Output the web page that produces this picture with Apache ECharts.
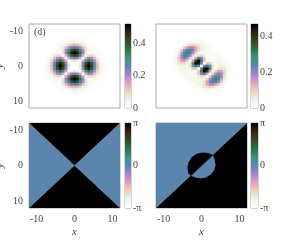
<!DOCTYPE html>
<html><head><meta charset="utf-8">
<style>html,body{margin:0;padding:0;background:#fff}#c{width:296px;height:242px}</style>
<script src="https://cdn.jsdelivr.net/npm/echarts@6/dist/echarts.min.js"></script>
</head><body><div id="c"></div>
<script>
const gridCoords = [-7.5,-6.75,-6,-5.25,-4.5,-3.75,-3,-2.25,-1.5,-0.75,0,0.75,1.5,2.25,3,3.75,4.5,5.25,6,6.75,7.5];
const densityD = [
[0,0,0,0,0,0,.01,.01,.01,.02,.02,.02,.01,.01,.01,0,0,0,0,0,0],
[0,0,0,0,0,.01,.01,.03,.04,.05,.06,.05,.04,.03,.01,.01,0,0,0,0,0],
[0,0,0,0,.01,.02,.03,.06,.10,.13,.14,.13,.10,.06,.03,.02,.01,0,0,0,0],
[0,0,0,.01,.01,.03,.07,.13,.20,.26,.28,.26,.20,.13,.07,.03,.01,.01,0,0,0],
[0,0,.01,.01,.03,.03,.09,.20,.31,.40,.44,.40,.31,.20,.09,.03,.03,.01,.01,0,0],
[0,.01,.02,.03,.03,0,.08,.22,.36,.48,.52,.48,.36,.22,.08,0,.03,.03,.02,.01,0],
[.01,.01,.03,.07,.09,.08,0,.15,.30,.41,.45,.41,.30,.15,0,.08,.09,.07,.03,.01,.01],
[.01,.03,.06,.13,.20,.22,.15,0,.15,.23,.25,.23,.15,0,.15,.22,.20,.13,.06,.03,.01],
[.01,.04,.10,.20,.31,.36,.30,.15,0,.06,.08,.06,0,.15,.30,.36,.31,.20,.10,.04,.01],
[.02,.05,.13,.26,.40,.48,.41,.23,.06,0,.01,0,.06,.23,.41,.48,.40,.26,.13,.05,.02],
[.02,.06,.14,.28,.44,.52,.45,.25,.08,.01,0,.01,.08,.25,.45,.52,.44,.28,.14,.06,.02],
[.02,.05,.13,.26,.40,.48,.41,.23,.06,0,.01,0,.06,.23,.41,.48,.40,.26,.13,.05,.02],
[.01,.04,.10,.20,.31,.36,.30,.15,0,.06,.08,.06,0,.15,.30,.36,.31,.20,.10,.04,.01],
[.01,.03,.06,.13,.20,.22,.15,0,.15,.23,.25,.23,.15,0,.15,.22,.20,.13,.06,.03,.01],
[.01,.01,.03,.07,.09,.08,0,.15,.30,.41,.45,.41,.30,.15,0,.08,.09,.07,.03,.01,.01],
[0,.01,.02,.03,.03,0,.08,.22,.36,.48,.52,.48,.36,.22,.08,0,.03,.03,.02,.01,0],
[0,0,.01,.01,.03,.03,.09,.20,.31,.40,.44,.40,.31,.20,.09,.03,.03,.01,.01,0,0],
[0,0,0,.01,.01,.03,.07,.13,.20,.26,.28,.26,.20,.13,.07,.03,.01,.01,0,0,0],
[0,0,0,0,.01,.02,.03,.06,.10,.13,.14,.13,.10,.06,.03,.02,.01,0,0,0,0],
[0,0,0,0,0,.01,.01,.03,.04,.05,.06,.05,.04,.03,.01,.01,0,0,0,0,0],
[0,0,0,0,0,0,.01,.01,.01,.02,.02,.02,.01,.01,.01,0,0,0,0,0,0]
];
const densityE = [
[0,0,0,0,0,0,0,.01,.01,.01,.01,0,0,0,0,0,0,0,0,0,0],
[0,0,0,0,.01,.02,.02,.03,.03,.03,.02,.01,0,0,0,0,0,0,0,0,0],
[0,0,0,.01,.03,.06,.08,.10,.08,.07,.04,.02,.01,.01,0,0,0,0,0,0,0],
[0,0,.01,.04,.10,.15,.19,.18,.14,.08,.05,.04,.03,.01,.01,0,0,0,0,0,0],
[0,.01,.03,.10,.19,.26,.27,.22,.14,.08,.05,.04,.03,.03,.01,.01,0,0,0,0,0],
[0,.02,.06,.15,.26,.30,.27,.18,.10,.03,.03,.03,.03,.03,.03,.01,.01,0,0,0,0],
[0,.02,.08,.19,.27,.27,.20,.10,.02,.07,.08,.05,.02,.02,.03,.03,.01,.01,0,0,0],
[.01,.03,.10,.18,.22,.18,.10,.02,.14,.26,.22,.10,.03,.01,.02,.03,.03,.01,.01,0,0],
[.01,.03,.08,.14,.14,.10,.02,.14,.38,.46,.30,.11,0,.03,.02,.03,.03,.03,.01,.01,0],
[.01,.03,.07,.08,.08,.03,.07,.26,.46,.44,.23,0,.11,.10,.05,.03,.04,.04,.02,.01,.01],
[.01,.02,.04,.05,.05,.03,.08,.22,.30,.23,0,.23,.30,.22,.08,.03,.05,.05,.04,.02,.01],
[.01,.01,.02,.04,.04,.03,.05,.10,.11,0,.23,.44,.46,.26,.07,.03,.08,.08,.07,.03,.01],
[0,.01,.01,.03,.03,.03,.02,.03,0,.11,.30,.46,.38,.14,.02,.10,.14,.14,.08,.03,.01],
[0,0,.01,.01,.03,.03,.02,.01,.03,.10,.22,.26,.14,.02,.10,.18,.22,.18,.10,.03,.01],
[0,0,0,.01,.01,.03,.03,.02,.02,.05,.08,.07,.02,.10,.20,.27,.27,.19,.08,.02,0],
[0,0,0,0,.01,.01,.03,.03,.03,.03,.03,.03,.10,.18,.27,.30,.26,.15,.06,.02,0],
[0,0,0,0,0,.01,.01,.03,.03,.04,.05,.08,.14,.22,.27,.26,.19,.10,.03,.01,0],
[0,0,0,0,0,0,.01,.01,.03,.04,.05,.08,.14,.18,.19,.15,.10,.04,.01,0,0],
[0,0,0,0,0,0,0,.01,.01,.02,.04,.07,.08,.10,.08,.06,.03,.01,0,0,0],
[0,0,0,0,0,0,0,0,0,.01,.02,.03,.03,.03,.02,.02,.01,0,0,0,0],
[0,0,0,0,0,0,0,0,0,0,.01,.01,.01,.01,0,0,0,0,0,0,0]
];
const PI = Math.PI;
const phaseC = [
  {phase:0,  pts:[[-12,-12],[0,0],[-12,12]]},
  {phase:0,  pts:[[12,-12],[0,0],[12,12]]},
  {phase:PI, pts:[[-12,-12],[12,-12],[0,0]]},
  {phase:PI, pts:[[-12,12],[12,12],[0,0]]}
];
const phaseF = [
  {phase:0,  pts:[[-12,-12],[12,-12],[-12,12]]},
  {phase:PI, pts:[[12,-12],[12,12],[-12,12]]},
  {phase:PI, pts:[[-2.9,2.9],[-3.5,2.1],[-3.7,0.6],[-3.4,-0.9],[-2.6,-2.3],[-1.3,-3.3],[0.3,-3.7],[1.8,-3.5],[3.0,-3.0]]},
  {phase:0,  pts:[[-2.7,2.9],[-1.7,3.4],[-0.3,3.65],[1.2,3.4],[2.5,2.5],[3.4,1.2],[3.7,-0.1],[3.5,-1.6],[3.0,-2.8]]}
];
const xTicks = [-10,0,10];
const yTicks = [-10,0,10];
const barTicksD = [0,0.2,0.4];
const barTicksE = [0,0.2,0.4];
const barTicksPhase = [-PI,0,PI];
const rangeD = [0,0.52];
const rangeE = [0,0.47];
const rangePhase = [-PI,PI];
const cmapStops = ['#ffffff','#f0f5e6','#ecd3bb','#e59ebc','#a97fd6','#5b85ad','#3b9380','#2a7442','#37491f','#391f18','#000000'];

function rgb(h){return [1,3,5].map(i=>parseInt(h.substr(i,2),16));}
function cmap(t){
  t=Math.max(0,Math.min(1,t))*(cmapStops.length-1);
  const k=Math.min(Math.floor(t),cmapStops.length-2),f=t-k;
  const a=rgb(cmapStops[k]),b=rgb(cmapStops[k+1]);
  return 'rgb('+a.map((v,i)=>Math.round(v+(b[i]-v)*f)).join(',')+')';
}
const FONT='Liberation Serif',TXT='#444',LINE='#aaa';
const layout=[
 {l:29,t:24,w:91,h:84,bl:125,bw:6},{l:156,t:24,w:91,h:84,bl:251,bw:7},
 {l:29,t:123,w:91,h:85,bl:125,bw:6},{l:156,t:123,w:91,h:85,bl:251,bw:7}
];
const grids=[],xAxes=[],yAxes=[],series=[];
function addGrid(l,t,w,h){grids.push({left:l,top:t,width:w,height:h,show:true,outerBoundsMode:'none',containLabel:false,borderColor:LINE,borderWidth:1,backgroundColor:'#fff'});return grids.length-1;}
function mainPanel(n,p){
  const g=addGrid(p.l,p.t,p.w,p.h);
  const bottom=n>=2,left=n%2===0;
  xAxes.push({gridIndex:g,type:'value',min:-12,max:12,position:'bottom',
    name:bottom?'x':'',nameLocation:'middle',nameGap:19,
    nameTextStyle:{fontFamily:FONT,fontStyle:'italic',fontSize:11,color:TXT},
    axisLine:{show:false},splitLine:{show:false},
    axisTick:{show:false,customValues:xTicks},
    axisLabel:{show:bottom,fontFamily:FONT,fontSize:10,color:TXT,margin:6,customValues:xTicks}});
  yAxes.push({gridIndex:g,type:'value',min:-12,max:12,inverse:true,
    name:left?'y':'',nameLocation:'middle',nameGap:23,nameRotate:90,
    nameTextStyle:{fontFamily:FONT,fontStyle:'italic',fontSize:11,color:TXT},
    axisLine:{show:false},splitLine:{show:false},
    axisTick:{show:false,customValues:yTicks},
    axisLabel:{show:left,fontFamily:FONT,fontSize:10,color:TXT,margin:6,customValues:yTicks}});
  return g;
}
function colorbar(p,range,ticks,fmt){
  const g=addGrid(p.bl,p.t,p.bw,p.h);
  xAxes.push({gridIndex:g,type:'value',min:0,max:1,show:false});
  yAxes.push({gridIndex:g,type:'value',min:range[0],max:range[1],position:'right',
    axisLine:{show:false},splitLine:{show:false},
    axisTick:{show:false,customValues:ticks},
    axisLabel:{fontFamily:FONT,fontSize:10,color:TXT,margin:2,customValues:ticks,formatter:fmt,showMinLabel:true,showMaxLabel:true}});
  series.push({type:'custom',xAxisIndex:g,yAxisIndex:g,silent:true,animation:false,
    data:[[0,range[0],1,range[1]]],
    renderItem(params,api){
      const a=api.coord([api.value(0),api.value(3)]),b=api.coord([api.value(2),api.value(1)]);
      return {type:'rect',shape:{x:a[0],y:a[1],width:b[0]-a[0],height:b[1]-a[1]},
        style:{fill:new echarts.graphic.LinearGradient(0,1,0,0,cmapStops.map((c,i)=>({offset:i/(cmapStops.length-1),color:c})))}};
    }});
}
function density(g,rows,range){
  const data=[];
  rows.forEach((r,j)=>r.forEach((v,i)=>data.push([gridCoords[i],gridCoords[j],v])));
  series.push({type:'custom',xAxisIndex:g,yAxisIndex:g,silent:true,animation:false,progressive:0,clip:true,
    data,encode:{x:0,y:1},
    renderItem(params,api){
      const x=api.value(0),y=api.value(1),v=api.value(2);
      const a=api.coord([x-0.375,y-0.375]),b=api.coord([x+0.375,y+0.375]);
      return {type:'rect',shape:{x:a[0],y:a[1],width:b[0]-a[0]+0.6,height:b[1]-a[1]+0.6},
        style:{fill:cmap((v-range[0])/(range[1]-range[0]))}};
    }});
}
function phase(g,polys){
  series.push({type:'custom',xAxisIndex:g,yAxisIndex:g,silent:true,animation:false,clip:true,
    data:polys.map((p,i)=>[i,p.phase]),
    renderItem(params,api){
      const p=polys[params.dataIndex];
      return {type:'polygon',shape:{points:p.pts.map(q=>api.coord(q))},
        style:{fill:cmap((p.phase+PI)/(2*PI))}};
    }});
}
const piFmt=v=>v>1?'π':(v<-1?'-π':'0');
const numFmt=v=>v===0?'0':v.toFixed(1);
let g;
g=mainPanel(0,layout[0]);density(g,densityD,rangeD);colorbar(layout[0],rangeD,barTicksD,numFmt);
g=mainPanel(1,layout[1]);density(g,densityE,rangeE);colorbar(layout[1],rangeE,barTicksE,numFmt);
g=mainPanel(2,layout[2]);phase(g,phaseC);colorbar(layout[2],rangePhase,barTicksPhase,piFmt);
g=mainPanel(3,layout[3]);phase(g,phaseF);colorbar(layout[3],rangePhase,barTicksPhase,piFmt);
const chart=echarts.init(document.getElementById('c'),null,{renderer:'canvas'});
chart.setOption({animation:false,grid:grids,xAxis:xAxes,yAxis:yAxes,series,
  graphic:[{type:'text',left:34,top:27,z:100,style:{text:'(d)',fontFamily:FONT,fontSize:10,fill:TXT}}]});
</script></body></html>
